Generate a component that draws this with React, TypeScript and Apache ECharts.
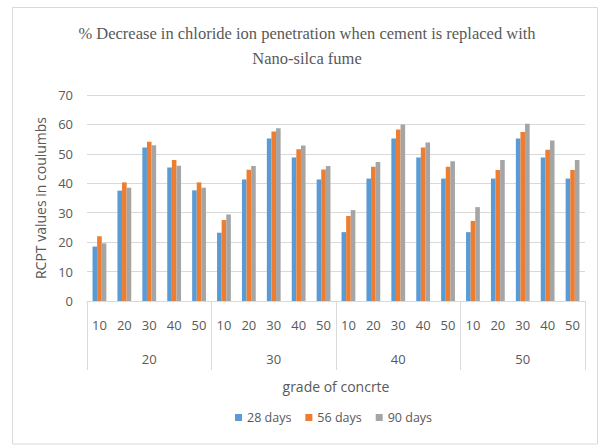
import React, { useEffect, useRef } from "react";
import * as echarts from "echarts";

const innerCats = ["10","20","30","40","50","10","20","30","40","50","10","20","30","40","50","10","20","30","40","50"];
const outerCats = ["20", "30", "40", "50"];
const seriesNames = ["28 days", "56 days", "90 days"];
const days28 = [18.5, 37.5, 52.2, 45.4, 37.6, 23.2, 41.3, 55.2, 48.8, 41.3, 23.4, 41.6, 55.2, 48.8, 41.6, 23.4, 41.6, 55.2, 48.8, 41.6];
const days56 = [22.0, 40.3, 54.1, 47.9, 40.3, 27.5, 44.6, 57.6, 51.6, 44.7, 28.9, 45.6, 58.3, 52.2, 45.6, 27.2, 44.5, 57.4, 51.4, 44.5];
const days90 = [19.6, 38.5, 52.9, 46.0, 38.5, 29.4, 45.9, 58.7, 52.8, 45.9, 30.9, 47.2, 60.0, 53.9, 47.5, 31.9, 47.9, 60.2, 54.5, 47.9];
const colors = ["#5B9BD5", "#ED7D31", "#A5A5A5"];
const titleLines = ["% Decrease in chloride ion penetration when cement is replaced with", "Nano-silca fume"];

const sans = "'Open Sans', 'Noto Sans', sans-serif";
const serif = "'Liberation Serif', 'DejaVu Serif', serif";

export default function App() {
  const ref = useRef<HTMLDivElement>(null);
  useEffect(() => {
    if (!ref.current) return;
    const chart = echarts.init(ref.current, null, { renderer: "svg" });
    const values = [days28, days56, days90];
    chart.setOption({
      animation: false,
      backgroundColor: "#ffffff",
      color: colors,
      graphic: [
        {
          type: "rect",
          silent: true,
          shape: { x: 12.5, y: 7.5, width: 585, height: 436.5 },
          style: { fill: "none", stroke: "#d9d9d9", lineWidth: 1 },
        },
        ...titleLines.map((t, i) => ({
          type: "text",
          silent: true,
          x: 307,
          y: 33 + i * 25,
          style: {
            text: t,
            fontFamily: serif,
            fontSize: 16.5,
            fill: "#595959",
            align: "center",
            verticalAlign: "middle",
          },
        })),
      ],
      legend: {
        data: seriesNames,
        left: 230,
        top: 406,
        itemWidth: 7,
        itemHeight: 7,
        itemGap: 14,
        icon: "rect",
        textStyle: { fontFamily: sans, fontSize: 12.5, color: "#595959" },
      },
      grid: { left: 87, right: 18, top: 95, bottom: 146, containLabel: false },
      xAxis: [
        {
          type: "category",
          data: innerCats,
          position: "bottom",
          axisLine: { show: true, lineStyle: { color: "#d9d9d9" } },
          axisTick: { show: false },
          axisLabel: { interval: 0, margin: 17, fontFamily: sans, fontSize: 13, color: "#595959" },
          name: "grade of concrte",
          nameLocation: "middle",
          nameGap: 78,
          nameTextStyle: { fontFamily: sans, fontSize: 14, color: "#595959" },
        },
        {
          type: "category",
          data: outerCats,
          position: "bottom",
          axisLine: { show: false },
          axisTick: { show: true, length: 69, interval: 0, lineStyle: { color: "#d9d9d9" } },
          axisLabel: { interval: 0, margin: 51, fontFamily: sans, fontSize: 13, color: "#595959" },
        },
      ],
      yAxis: {
        type: "value",
        min: 0,
        max: 70,
        interval: 10,
        axisLine: { show: false },
        axisTick: { show: false },
        splitLine: { lineStyle: { color: "#d9d9d9" } },
        axisLabel: { margin: 14, fontFamily: sans, fontSize: 13, color: "#595959" },
        name: "RCPT values in coulumbs",
        nameLocation: "middle",
        nameRotate: 90,
        nameGap: 33,
        nameTextStyle: { fontFamily: sans, fontSize: 14, color: "#595959" },
      },
      series: seriesNames.map((name, i) => ({
        name,
        type: "bar",
        xAxisIndex: 0,
        data: values[i],
        barWidth: 4.6,
        barGap: "0%",
        itemStyle: { color: colors[i] },
      })),
    });
    return () => chart.dispose();
  }, []);
  return (
    <div
      ref={ref}
      style={{ position: "fixed", left: 0, top: 0, width: 603, height: 447 }}
    />
  );
}
